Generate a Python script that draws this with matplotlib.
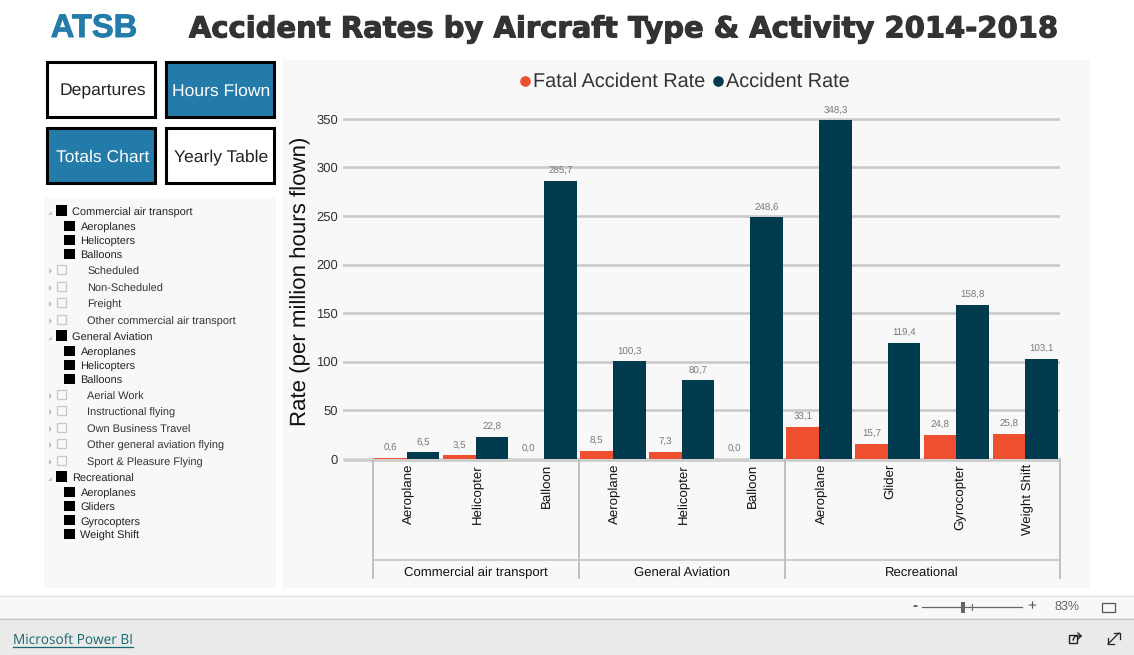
import matplotlib
matplotlib.use("Agg")
import matplotlib.pyplot as plt
from matplotlib.patches import Rectangle, Polygon
import matplotlib.patheffects as pe
import numpy as np

plt.rcParams['font.family'] = ['Liberation Sans', 'DejaVu Sans']
plt.rcParams['text.hinting'] = 'no_hinting'

W, H = 1134, 655
groups = ["Commercial air transport", "General Aviation", "Recreational"]
group_sizes = [3, 3, 4]
categories = ["Aeroplane", "Helicopter", "Balloon", "Aeroplane", "Helicopter", "Balloon",
              "Aeroplane", "Glider", "Gyrocopter", "Weight Shift"]
fatal_rate = [0.6, 3.5, 0.0, 8.5, 7.3, 0.0, 33.1, 15.7, 24.8, 25.8]
accident_rate = [6.5, 22.8, 285.7, 100.3, 80.7, 248.6, 348.3, 119.4, 158.8, 103.1]
y_ticks = [0, 50, 100, 150, 200, 250, 300, 350]
tree_items = [
    (0, "Commercial air transport", 211), (1, "Aeroplanes", 226), (1, "Helicopters", 240), (1, "Balloons", 254),
    (2, "Scheduled", 270), (2, "Non-Scheduled", 287), (2, "Freight", 303), (2, "Other commercial air transport", 320),
    (0, "General Aviation", 336), (1, "Aeroplanes", 351), (1, "Helicopters", 365), (1, "Balloons", 379),
    (2, "Aerial Work", 395), (2, "Instructional flying", 411), (2, "Own Business Travel", 428),
    (2, "Other general aviation flying", 444), (2, "Sport & Pleasure Flying", 461),
    (0, "Recreational", 477), (1, "Aeroplanes", 492), (1, "Gliders", 506), (1, "Gyrocopters", 520), (1, "Weight Shift", 534),
]
buttons = [("Departures", 45, 60, False), ("Hours Flown", 164, 60, True),
           ("Totals Chart", 45, 126, True), ("Yearly Table", 164, 126, False)]

RED, DARK, BLUE = "#ee4f2e", "#003a4f", "#237baa"
fig = plt.figure(figsize=(W / 100, H / 100), dpi=100, facecolor="white")

# page chrome, in pixel coordinates
bg = fig.add_axes([0, 0, 1, 1], zorder=0)
bg.set_xlim(0, W); bg.set_ylim(H, 0); bg.axis("off")
def box(x, y, w, h, fc, ec="none", lw=0, z=1):
    bg.add_patch(Rectangle((x, y), w, h, facecolor=fc, edgecolor=ec, linewidth=lw, zorder=z))
box(282, 60, 808, 528, "#f8f8f8")
box(44, 198, 232, 390, "#f8f8f8")
box(0, 595, W, 24, "#f8f8f8")
box(0, 618, W, 37, "#eaeaea")
bg.plot([0, W], [595.5, 595.5], color="#e3e3e3", lw=1)
bg.plot([0, W], [618.5, 618.5], color="#c8c8c8", lw=1)

bg.text(94, 28.5, "ATSB", color=BLUE, fontsize=23.5, fontweight="bold", ha="center", va="center",
        path_effects=[pe.withStroke(linewidth=0.6, foreground=BLUE)])
bg.text(623, 29.5, "Accident Rates by Aircraft Type & Activity 2014-2018", color="#333333",
        fontsize=20.9, fontweight="bold", family="DejaVu Sans", ha="center", va="center",
        path_effects=[pe.withStroke(linewidth=0.8, foreground="#333333")])

for label, x, y, on in buttons:
    bg.add_patch(Rectangle((x + 1.5, y + 1.5), 108.7, 55.7, facecolor=BLUE if on else "white",
                           edgecolor="black", linewidth=2.2, zorder=2))
    bg.text(x + 57.5, y + 31.5, label, color="white" if on else "#222222", fontsize=12.6,
            ha="center", va="center", zorder=3)

for level, label, y in tree_items:
    if level == 0:
        box(56, y - 6, 10.5, 10.5, "black")
        bg.add_patch(Polygon([[48, y + 4], [52, y + 4], [52, y + 0]], facecolor="#c8c8c8", zorder=2))
        tx = 72.5
    elif level == 1:
        box(64, y - 5.5, 10.5, 10.5, "black")
        tx = 80.5
    else:
        bg.add_patch(Rectangle((57, y - 5), 9, 8.5, facecolor="none", edgecolor="#c8c8c8", linewidth=0.9, zorder=2))
        bg.add_patch(Polygon([[49, y - 2], [52, y + 1], [49, y + 4]], facecolor="#c0c0c0", zorder=2))
        tx = 87
    bg.text(tx, y + 1.6, label, fontsize=7.9, color="#222222" if level < 2 else "#333333", ha="left", va="center", zorder=3)

bg.text(13, 640, "Microsoft Power BI", fontsize=9.8, color="#14686f", family="Open Sans", ha="left", va="center")
bg.plot([13, 133], [646.5, 646.5], color="#14686f", lw=0.9)

# zoom bar
bg.text(915, 606.5, "-", fontsize=11, color="#555555", fontweight="bold", ha="center", va="center")
bg.plot([922, 1022], [607, 607], color="#666666", lw=0.9)
bg.plot([972, 972], [604, 610], color="#666666", lw=0.8)
box(961, 602, 4, 11, "#666666")
bg.text(1032, 606, "+", fontsize=11, color="#555555", ha="center", va="center")
bg.text(1067, 607, "83%", fontsize=9, color="#666666", ha="center", va="center")
bg.add_patch(Rectangle((1102, 602.5), 13, 9, facecolor="none", edgecolor="#555555", linewidth=0.9, zorder=2))
# share and expand glyphs
bg.add_patch(Rectangle((1069, 635), 8, 8, facecolor="none", edgecolor="#222222", linewidth=1, zorder=2))
bg.plot([1073, 1075, 1081], [640, 636, 636], color="#222222", lw=1)
bg.plot([1078, 1081, 1078], [633, 636, 639], color="#222222", lw=1)
bg.plot([1108, 1119], [644, 633], color="#222222", lw=0.9)
bg.plot([1114, 1120, 1120], [633, 633, 639], color="#222222", lw=0.9)
bg.plot([1108, 1108, 1114], [638, 644, 644], color="#222222", lw=0.9)

# chart
L, R, T, B = 343, 1059.5, 100, 458.8
ax = fig.add_axes([L / W, 1 - B / H, (R - L) / W, (B - T) / H], zorder=2)
ax.patch.set_alpha(0)
cw = 68.7
ax.set_xlim((L - 406.85) / cw, 9.5)
y_scale = 340.0 / 350
ax.set_ylim(0, (B - T) / y_scale)
x = np.arange(len(categories))
bw = 0.475
ax.bar(x - bw / 2, fatal_rate, bw, color=RED, zorder=3)
ax.bar(x + bw / 2, accident_rate, bw, color=DARK, zorder=3)
for xi, f, a in zip(x, fatal_rate, accident_rate):
    for off, v in ((-bw / 2, f), (bw / 2, a)):
        ax.annotate(f"{v:.1f}".replace(".", ","), (xi + off, v), xytext=(0, 3.6), textcoords="offset points",
                    ha="center", va="bottom", fontsize=7, color="#777777", zorder=4)
for s in ax.spines.values():
    s.set_visible(False)
ax.set_yticks(y_ticks)
ax.set_xticks([])
ax.tick_params(axis="y", length=0, pad=3.6, labelsize=9.4, labelcolor="#333333")
ax.grid(axis="y", color="#c8c8c8", lw=1.8, zorder=1)
ax.set_axisbelow(True)
bg.plot([343, 1060], [460, 460], color="#c8c8c8", lw=1.8, zorder=3, solid_capstyle="butt")
bg.text(301, 281, "Rate (per million hours flown)", rotation=90, fontsize=16, color="#111111",
        ha="center", va="center", zorder=3)

# hierarchical axis drawn from the category scale
trans = ax.get_xaxis_transform()
def px_y(p):
    return (B - p) / (B - T)
edge = -0.5
bounds = [edge]
for n in group_sizes:
    edge += n
    bounds.append(edge)
for b in bounds:
    ax.plot([b, b], [px_y(459), px_y(578)], transform=trans, color="#c0c0c0", lw=1.4, clip_on=False, zorder=5)
ax.plot([bounds[0], bounds[-1]], [px_y(560.5)] * 2, transform=trans, color="#c0c0c0", lw=1.1, clip_on=False, zorder=5)
for xi, c in zip(x, categories):
    ax.text(xi + 0.035, px_y(464), c, transform=trans, rotation=90, fontsize=9.5, color="#111111",
            ha="center", va="top", clip_on=False)
for g, a, b in zip(groups, bounds[:-1], bounds[1:]):
    ax.text((a + b) / 2, px_y(573), g, transform=trans, fontsize=9.45, color="#111111",
            ha="center", va="center", clip_on=False)

# legend
bg.plot([525], [81], "o", color=RED, ms=6.6, zorder=3)
bg.text(533, 81.5, "Fatal Accident Rate", fontsize=14.3, color="#333333", ha="left", va="center", zorder=3)
bg.plot([718], [81], "o", color=DARK, ms=6.6, zorder=3)
bg.text(726, 81.5, "Accident Rate", fontsize=14.3, color="#333333", ha="left", va="center", zorder=3)

fig.savefig("out.png", dpi=100)
